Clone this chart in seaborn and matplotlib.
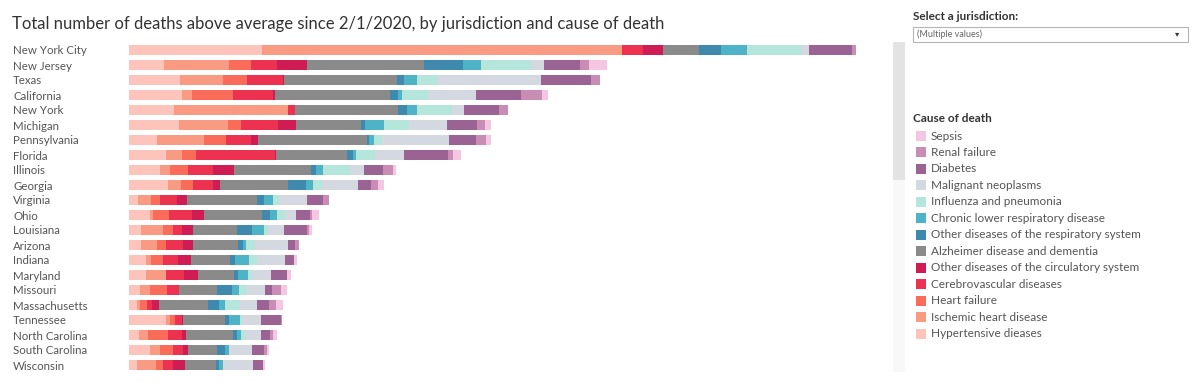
import matplotlib
matplotlib.use('Agg')
import matplotlib.pyplot as plt
from matplotlib.patches import Rectangle
import pandas as pd
import seaborn as sns

W, H = 1200, 392

jurisdictions = ['New York City', 'New Jersey', 'Texas', 'California', 'New York',
                 'Michigan', 'Pennsylvania', 'Florida', 'Illinois', 'Georgia',
                 'Virginia', 'Ohio', 'Louisiana', 'Arizona', 'Indiana', 'Maryland',
                 'Missouri', 'Massachusetts', 'Tennessee', 'North Carolina',
                 'South Carolina', 'Wisconsin']

# stacking order, left to right
causes = ['Hypertensive dieases', 'Ischemic heart disease', 'Heart failure',
          'Cerebrovascular diseases', 'Other diseases of the circulatory system',
          'Alzheimer disease and dementia', 'Other diseases of the respiratory system',
          'Chronic lower respiratory disease', 'Influenza and pneumonia',
          'Malignant neoplasms', 'Diabetes', 'Renal failure', 'Sepsis']

colors = ['#fcc4bb', '#f99a83', '#fb6b59', '#ec3250', '#d01c55',
          '#8a8a8a', '#3e89ad', '#4fb3c8', '#b5e6dc',
          '#d4d8e0', '#9b6393', '#c98cb5', '#f5c6e1']

# values (relative scale, no axis in the original)
hypertensive = [132.4, 34.7, 50.7, 52.7, 45, 49.7, 27.7, 36.4, 30.7, 39, 9, 20.7, 11.4, 11.4, 16.7, 16.7, 10.7, 7.4, 36.4, 10, 20.7, 7.4]
ischemic = [360, 64.7, 43.3, 9.7, 114, 48.7, 46.7, 16, 10, 12.7, 12.4, 3.3, 22, 16, 4.7, 20, 10, 3.3, 4.3, 8.7, 10, 19.3]
heart_failure = [0, 22.3, 23.4, 41, 0, 13, 22, 14.6, 18.3, 12.3, 9.3, 15.7, 10, 9, 12, 0, 16.7, 6.7, 5, 20.3, 13.3, 7.3]
cerebro = [21.6, 26, 36, 40, 6.7, 37.6, 25.3, 79, 25, 19.4, 17.3, 22.7, 9, 17.6, 15.6, 18.3, 12.6, 5, 6.7, 13.4, 10, 9.4]
other_circ = [20, 29.7, 1.6, 2.6, 0, 17.7, 6.7, 1, 20.7, 7.3, 9.4, 12.3, 11, 9.4, 12.7, 14, 0, 7.6, 1, 4.3, 5, 12.3]
alzheimer = [35.7, 117, 113, 115, 102.7, 64.7, 109.6, 70.4, 77, 67.7, 70, 57.7, 44.6, 45, 39, 36, 38, 48.4, 42.6, 46.7, 29, 30.7]
other_resp = [22, 39, 7, 8, 9, 4.6, 2, 6.6, 5, 18.3, 7.3, 8.3, 14.4, 5, 4.7, 3.7, 14.4, 11.6, 3.4, 4, 7.7, 3.3]
chronic = [25.7, 18, 12.4, 3.4, 10, 18.7, 4.7, 2.7, 7.3, 6.7, 9.3, 6.7, 12.3, 3.3, 14.6, 9.7, 7.6, 6, 11.3, 4, 4.3, 4.3]
influenza = [54.3, 50, 21.6, 26.6, 35.6, 25.3, 8.3, 19, 26.7, 9, 6, 8.3, 4.3, 9, 7.4, 4, 7.4, 14.7, 2, 4.3, 0, 0]
malignant = [8.3, 13.6, 102.4, 47.7, 12, 38, 66.7, 28.7, 14, 36.6, 28, 10.7, 16, 33.3, 28.3, 19, 18.3, 17.3, 19, 15.7, 22.4, 29.4]
diabetes = [42.4, 35.7, 50.3, 45, 34.7, 29.7, 27, 44, 19.3, 12.4, 16, 14.3, 22.4, 6.7, 9, 16.6, 7.3, 11.4, 19.7, 9.3, 12.6, 10.6]
renal = [4, 9.3, 9, 20.7, 8.7, 8, 10, 5.6, 10, 7, 6, 2.3, 2.6, 4, 0, 0, 8.7, 7.3, 1.3, 2.7, 2.4, 0]
sepsis = [0, 17.4, 0, 6.6, 0, 5.7, 4.7, 7.7, 2.7, 6.6, 0, 7, 3, 0, 3.3, 3.4, 5.7, 7.3, 0, 4.6, 2.6, 2]

values = [hypertensive, ischemic, heart_failure, cerebro, other_circ, alzheimer,
          other_resp, chronic, influenza, malignant, diabetes, renal, sepsis]


def build_frame():
    rows = []
    for k, (cause, vals) in enumerate(zip(causes, values)):
        for j, v in zip(jurisdictions, vals):
            rows.append({'Jurisdiction': j, 'Cause': cause, 'k': k, 'Deaths': v})
    df = pd.DataFrame(rows).sort_values(['Jurisdiction', 'k'])
    df['Cum'] = df.groupby('Jurisdiction')['Deaths'].cumsum()
    return df


df = build_frame()

sns.set_theme(style='white')
plt.rcParams['font.family'] = ['Lato', 'DejaVu Sans']

fig = plt.figure(figsize=(W / 100, H / 100), dpi=100)
ax = fig.add_axes([129.3 / W, (H - 372.5) / H, 760 / W, 330 / H])

# stacked bars: draw cumulative totals from the last cause back to the first
for cause, color in reversed(list(zip(causes, colors))):
    sub = df[df['Cause'] == cause]
    sns.barplot(data=sub, x='Cum', y='Jurisdiction', order=jurisdictions, orient='h',
                color=color, saturation=1, width=0.68, linewidth=0, errorbar=None, ax=ax)

ax.set_xlim(0, 760)
ax.set_xlabel('')
ax.set_ylabel('')
ax.set_xticks([])
sns.despine(ax=ax, left=True, bottom=True)
ax.tick_params(axis='y', length=0, pad=(129.3 - 13) * 0.72, labelsize=8.3, labelcolor='#555555')
for lbl in ax.get_yticklabels():
    lbl.set_horizontalalignment('left')

fig.text(12 / W, 1 - 24 / H,
         'Total number of deaths above average since 2/1/2020, by jurisdiction and cause of death',
         fontsize=12, color='#333333', va='center', ha='left')

# scrollbar
fig.add_artist(Rectangle((893 / W, 1 - 372 / H), 12 / W, 330 / H,
                         transform=fig.transFigure, color='#f8f8f8', lw=0))
fig.add_artist(Rectangle((893 / W, 1 - 180 / H), 12 / W, 138 / H,
                         transform=fig.transFigure, color='#e3e3e3', lw=0))

# filter control
fig.text(913 / W, 1 - 17 / H, 'Select a jurisdiction:', fontsize=8.5, fontweight='bold',
         color='#333333', va='center', ha='left')
fig.add_artist(Rectangle((913 / W, 1 - 41.5 / H), 275 / W, 15 / H, transform=fig.transFigure,
                         facecolor='white', edgecolor='#b5b5b5', lw=0.8))
fig.text(917 / W, 1 - 34 / H, '(Multiple values)', fontsize=6.5, color='#666666',
         va='center', ha='left')
fig.text(1177 / W, 1 - 34 / H, '\u25be', fontsize=6, color='#333333', va='center', ha='center')

# legend
fig.text(913 / W, 1 - 119 / H, 'Cause of death', fontsize=8.5, fontweight='bold',
         color='#333333', va='center', ha='left')
for i, (cause, color) in enumerate(zip(causes[::-1], colors[::-1])):
    y = 136 + i * 16.47
    fig.add_artist(Rectangle((916 / W, 1 - (y + 5) / H), 10 / W, 10 / H,
                             transform=fig.transFigure, color=color, lw=0))
    fig.text(931 / W, 1 - y / H, cause, fontsize=8.5, color='#555555', va='center', ha='left')

fig.savefig('out.png', dpi=100)
